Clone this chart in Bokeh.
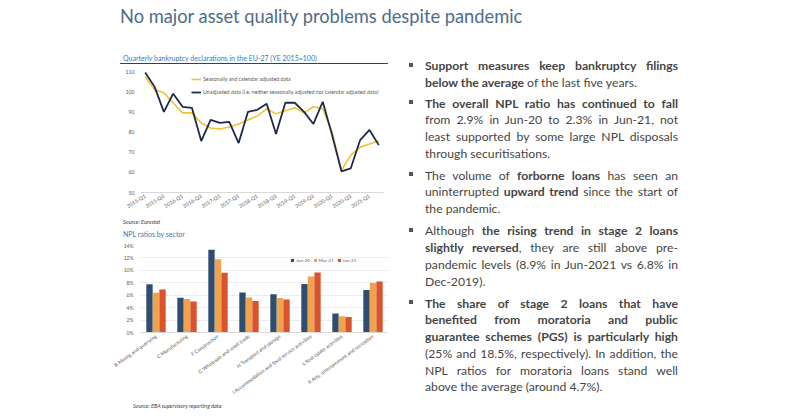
from bokeh.plotting import figure
from bokeh.models import Range1d, FixedTicker, Legend, LegendItem, Div, Spacer, ColumnDataSource
from bokeh.layouts import row, column
from bokeh.transform import dodge
from bokeh.embed import file_html
from bokeh.resources import INLINE

FONT = "Lato"

# ---------------- data ----------------
quarters = ["2015-Q1", "2015-Q2", "2015-Q3", "2015-Q4",
            "2016-Q1", "2016-Q2", "2016-Q3", "2016-Q4",
            "2017-Q1", "2017-Q2", "2017-Q3", "2017-Q4",
            "2018-Q1", "2018-Q2", "2018-Q3", "2018-Q4",
            "2019-Q1", "2019-Q2", "2019-Q3", "2019-Q4",
            "2020-Q1", "2020-Q2", "2020-Q3", "2020-Q4",
            "2021-Q1", "2021-Q2"]
seasonally_adjusted = [107.5, 101, 99.5, 94.5, 89.5, 89.5, 84.5, 82, 81.5, 82.5,
                       84, 86, 88, 91.5, 89, 90.5, 92, 89.5, 92.5, 91.5,
                       80, 61, 68.5, 72.5, 74, 75.5]
unadjusted = [109.5, 102.5, 90, 99, 92.5, 92, 75.5, 86, 84.5, 85,
              74.5, 90, 91, 94, 79, 94.5, 94.5, 90, 84, 95,
              78.5, 60.5, 62, 76, 81, 73.5]
y1_ticks = [50, 60, 70, 80, 90, 100, 110]
series1_names = ["Seasonally and calendar adjusted data",
                 "Unadjusted data (i.e. neither seasonally adjusted nor calendar adjusted data)"]

sectors = ["B Mining and quarrying", "C Manufacturing", "F Construction",
           "G Wholesale and retail trade", "H Transport and storage",
           "I Accommodation and food service activities", "L Real estate activities",
           "R Arts, entertainment and recreation"]
npl_jun20 = [7.75, 5.6, 13.3, 6.45, 6.15, 7.8, 3.05, 6.85]
npl_mar21 = [6.4, 5.4, 11.8, 5.65, 5.55, 9.0, 2.6, 7.95]
npl_jun21 = [6.9, 5.0, 9.6, 5.07, 5.3, 9.65, 2.5, 8.2]
npl_periods = ["Jun-20", "Mar-21", "Jun-21"]
y2_ticks = [0, 2, 4, 6, 8, 10, 12, 14]

title_text = "No major asset quality problems despite pandemic"
chart1_title = "Quarterly bankruptcy declarations  in the EU-27 (YE 2015=100)"
chart2_title = "NPL ratios by sector"
source1 = "Source: Eurostat"
source2 = "Source: EBA supervisory reporting data"

paragraphs = [
    ["<b>Support measures keep bankruptcy filings</b>",
     "<b>below the average</b> of the last five years."],
    ["<b>The overall NPL ratio has continued to fall</b>",
     "from 2.9% in Jun-20 to 2.3% in Jun-21, not",
     "least supported by some large NPL disposals",
     "through securitisations."],
    ["The volume of <b>forborne loans</b> has seen an",
     "uninterrupted <b>upward trend</b> since the start of",
     "the pandemic."],
    ["Although <b>the rising trend in stage 2 loans</b>",
     "<b>slightly reversed</b>, they are still above pre-",
     "pandemic levels (8.9% in Jun-2021 vs 6.8% in",
     "Dec-2019)."],
    ["<b>The share of stage 2 loans that have</b>",
     "<b>benefited from moratoria and public</b>",
     "<b>guarantee schemes (PGS) is particularly high</b>",
     "(25% and 18.5%, respectively). In addition, the",
     "NPL ratios for moratoria loans stand well",
     "above the average (around 4.7%)."],
]

# ---------------- colours ----------------
C_YEL = "#F2C232"
C_NAVY = "#1E2A4C"
C_B1 = "#2F4E6F"
C_B2 = "#F0A24C"
C_B3 = "#DA532C"
C_TXT = "#595959"


def style_axis(ax, size):
    ax.major_label_text_font = FONT
    ax.major_label_text_font_size = size
    ax.major_label_text_color = C_TXT
    ax.major_tick_line_color = None
    ax.minor_tick_line_color = None
    ax.major_tick_out = 0
    ax.major_tick_in = 0
    ax.minor_tick_out = 0
    ax.minor_tick_in = 0


# ---------------- chart 1 ----------------
x_idx = list(range(len(quarters)))
p1 = figure(frame_width=243, frame_height=121, x_range=Range1d(-0.5, len(quarters) - 0.5),
            y_range=Range1d(50, 110), output_backend="svg", toolbar_location=None,
            min_border_left=27, min_border_right=10, min_border_top=7, min_border_bottom=22)
p1.outline_line_color = None
p1.grid.visible = False
src_l = ColumnDataSource(dict(x=x_idx, sa=seasonally_adjusted, un=unadjusted))
r_sa = p1.line("x", "sa", source=src_l, line_color=C_YEL, line_width=1.6)
r_un = p1.line("x", "un", source=src_l, line_color=C_NAVY, line_width=1.8)

p1.yaxis.ticker = FixedTicker(ticks=y1_ticks)
p1.yaxis.axis_line_color = None
p1.yaxis.major_label_standoff = 6
p1.xaxis.ticker = FixedTicker(ticks=x_idx[::2])
p1.xaxis.major_label_overrides = {i: quarters[i] for i in x_idx[::2]}
p1.xaxis.major_label_orientation = 0.55
p1.xaxis.axis_line_color = "#D9D9D9"
p1.xaxis.major_label_standoff = 3
style_axis(p1.xaxis[0], "5.2px")
style_axis(p1.yaxis[0], "5.2px")

leg1 = Legend(items=[LegendItem(label=series1_names[0], renderers=[r_sa]),
                     LegendItem(label=series1_names[1], renderers=[r_un])],
              location=(51, 95), orientation="vertical", background_fill_alpha=0,
              border_line_color=None, padding=0, margin=0, spacing=3,
              glyph_width=10, glyph_height=10, label_height=10, label_standoff=2,
              label_text_font=FONT, label_text_font_size="5.3px", label_text_color=C_TXT)
p1.add_layout(leg1, "center")

# ---------------- chart 2 ----------------
p2 = figure(frame_width=248, frame_height=87, x_range=Range1d(-0.5, len(sectors) - 0.5),
            y_range=Range1d(0, 14), output_backend="svg", toolbar_location=None,
            min_border_left=30, min_border_right=2, min_border_top=7, min_border_bottom=60)
p2.outline_line_color = None
p2.xgrid.visible = False
p2.ygrid.ticker = FixedTicker(ticks=y2_ticks)
p2.ygrid.grid_line_color = "#E4E4E4"
p2.ygrid.grid_line_width = 0.7
src_b = ColumnDataSource(dict(x=list(range(len(sectors))), a=npl_jun20, b=npl_mar21, c=npl_jun21))
bw = 0.205
rb1 = p2.vbar(x=dodge("x", -0.21), top="a", width=bw, source=src_b, fill_color=C_B1, line_color=None)
rb2 = p2.vbar(x=dodge("x", 0.0), top="b", width=bw, source=src_b, fill_color=C_B2, line_color=None)
rb3 = p2.vbar(x=dodge("x", 0.21), top="c", width=bw, source=src_b, fill_color=C_B3, line_color=None)

p2.yaxis.ticker = FixedTicker(ticks=y2_ticks)
p2.yaxis.major_label_overrides = {t: f"{t}%" for t in y2_ticks}
p2.yaxis.axis_line_color = None
p2.yaxis.major_label_standoff = 7
p2.xaxis.ticker = FixedTicker(ticks=list(range(len(sectors))))
p2.xaxis.major_label_overrides = {i: s for i, s in enumerate(sectors)}
p2.xaxis.major_label_orientation = 0.63
p2.xaxis.axis_line_color = "#D9D9D9"
p2.xaxis.major_label_standoff = 3
style_axis(p2.xaxis[0], "5px")
style_axis(p2.yaxis[0], "5px")

leg2 = Legend(items=[LegendItem(label=npl_periods[0], renderers=[rb1]),
                     LegendItem(label=npl_periods[1], renderers=[rb2]),
                     LegendItem(label=npl_periods[2], renderers=[rb3])],
              location=(150, 69), orientation="horizontal", background_fill_alpha=0,
              border_line_color=None, padding=0, margin=0, spacing=3,
              glyph_width=4, glyph_height=4, label_height=6, label_width=10, label_standoff=2,
              label_text_font=FONT, label_text_font_size="4.5px", label_text_color=C_TXT)
p2.add_layout(leg2, "center")

# ---------------- text blocks ----------------
main_title = Div(width=800, height=45, margin=0, text=(
    f'<div style="padding-left:120px;padding-top:4.5px;font-family:{FONT};font-size:18.3px;'
    f'line-height:22px;color:#4F6B89;white-space:nowrap;">{title_text}</div>'))


def chart_title(txt, height, pad_top):
    return Div(width=280, height=height, margin=0, text=(
        f'<div style="margin-left:10px;width:268px;height:{height}px;box-sizing:border-box;'
        f'border-bottom:1.5px solid #3F3F3F;padding-left:3px;padding-top:{pad_top}px;'
        f'font-family:{FONT};font-size:7px;line-height:8px;color:#3A77B8;white-space:nowrap;">'
        f'{txt}</div>'))


def source_div(txt, height, shift, pad_left):
    return Div(width=280, height=height, margin=0, text=(
        f'<div style="position:relative;top:{shift}px;padding-left:{pad_left}px;font-family:{FONT};'
        f'font-style:italic;font-size:5.5px;line-height:8px;color:#404040;white-space:nowrap;">'
        f'{txt}</div>'))


t1 = chart_title(chart1_title, 19, 8.7)
s1 = source_div(source1, 11, -2.5, 13)
t2 = chart_title(chart2_title, 13, 3)
s2 = source_div(source2, 11, -4, 23)

LH = 16.75
centers = [21.7, 59.0, 131.0, 186.7, 259.0]
html = ['<div style="position:relative;width:410px;height:373px;font-family:Lato;'
        'font-size:12.2px;color:#454545;">']
for para, c in zip(paragraphs, centers):
    top = c - LH / 2
    html.append(f'<div style="position:absolute;left:35px;top:{top:.2f}px;width:253px;">')
    html.append(f'<div style="position:absolute;left:-16px;top:{LH/2 - 4:.2f}px;width:4px;'
                f'height:4px;background:#555555;"></div>')
    for k, line in enumerate(para):
        last = k == len(para) - 1
        align = "left" if last else "justify"
        html.append(f'<div style="height:{LH}px;line-height:{LH}px;text-align:justify;'
                    f'text-align-last:{align};overflow:hidden;">{line}</div>')
    html.append('</div>')
html.append('</div>')
bullets = Div(width=410, height=373, margin=0, text="".join(html))

left = column(t1, p1, s1, t2, p2, s2)
layout = column(main_title, row(Spacer(width=110, height=373), left, bullets))

open("out.html", "w").write(file_html(layout, INLINE, title="No major asset quality problems"))
